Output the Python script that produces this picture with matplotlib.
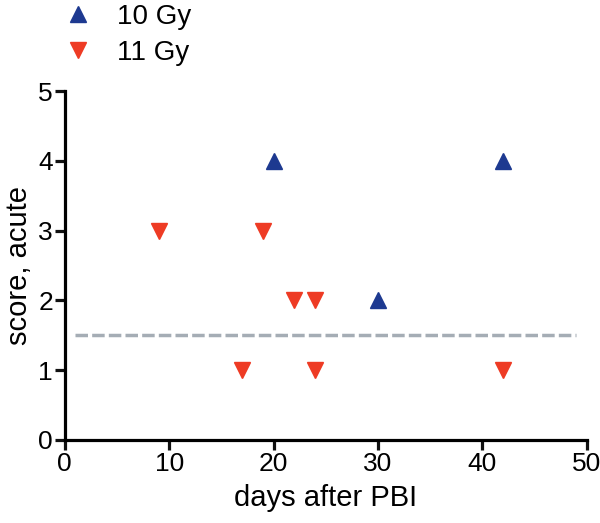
import matplotlib.pyplot as plt

plt.rcParams['font.family'] = ['Liberation Sans', 'DejaVu Sans']

# data
days_10gy = [20, 30, 42]
score_10gy = [4, 2, 4]
days_11gy = [9, 17, 19, 22, 24, 24, 42]
score_11gy = [3, 1, 3, 2, 2, 1, 1]
threshold = 1.5
threshold_span = [1, 49]
x_ticks = [0, 10, 20, 30, 40, 50]
y_ticks = [0, 1, 2, 3, 4, 5]

fig = plt.figure(figsize=(6.0, 5.23), dpi=100)
ax = fig.add_axes([0.108, 0.159, 0.87, 0.667])

ax.plot(threshold_span, [threshold, threshold], color='#a5adb5', lw=2.5,
        ls=(0, (3.6, 1.2)), zorder=1)
h1, = ax.plot(days_10gy, score_10gy, ls='none', marker='^', ms=11,
              color='#1d3990', mec='#1d3990', label='10 Gy', clip_on=False)
h2, = ax.plot(days_11gy, score_11gy, ls='none', marker='v', ms=11,
              color='#ee3b24', mec='#ee3b24', label='11 Gy', clip_on=False)

ax.set_xlim(0, 50)
ax.set_ylim(0, 5)
ax.set_xticks(x_ticks)
ax.set_yticks(y_ticks)
for s in ['top', 'right']:
    ax.spines[s].set_visible(False)
for s in ['left', 'bottom']:
    ax.spines[s].set_linewidth(2.3)
ax.tick_params(width=2.3, length=7, labelsize=19, pad=1.5, color='#111111')
ax.set_xlabel('days after PBI', fontsize=21, labelpad=6)
ax.set_ylabel('score, acute', fontsize=21, labelpad=4)

fig.legend(handles=[h1, h2], loc='upper left', bbox_to_anchor=(0.065, 1.04),
           frameon=False, fontsize=20, handlelength=1.0, handletextpad=0.9,
           labelspacing=0.35, markerscale=1.0)

fig.savefig('out.png', dpi=100)
